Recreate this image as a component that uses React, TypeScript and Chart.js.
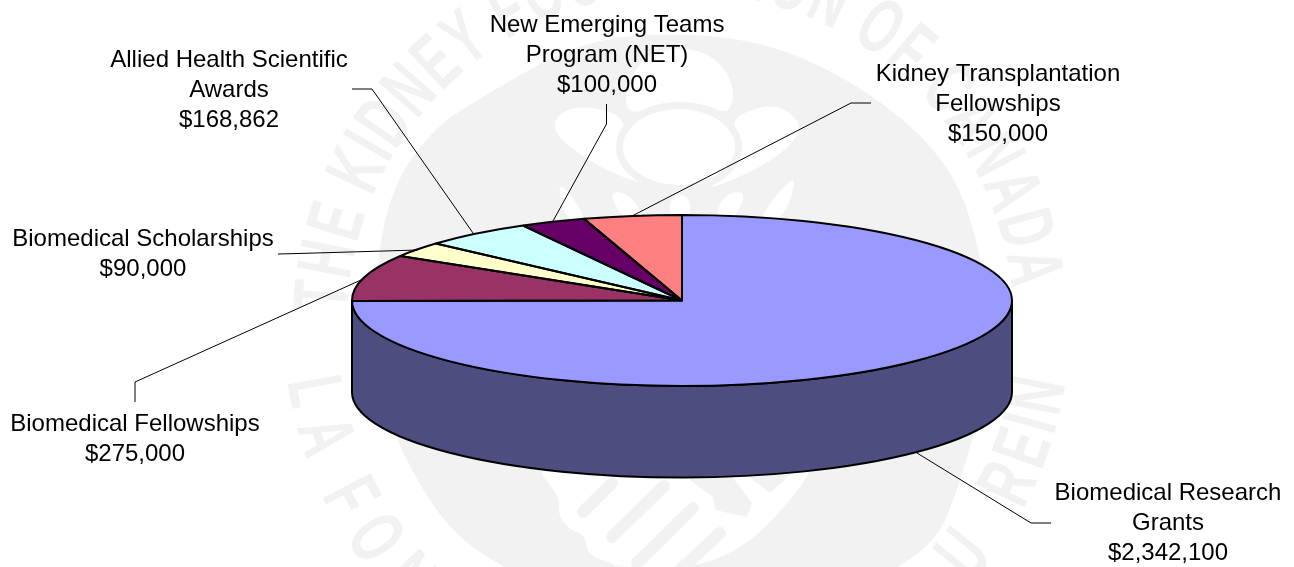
import React, { useEffect, useRef } from "react";
import { Chart, registerables } from "chart.js";

Chart.register(...registerables);

const categories = [
  "Biomedical Research Grants",
  "Biomedical Fellowships",
  "Biomedical Scholarships",
  "Allied Health Scientific Awards",
  "New Emerging Teams Program (NET)",
  "Kidney Transplantation Fellowships",
];
const values = [2342100, 275000, 90000, 168862, 100000, 150000];
const colors = ["#9999FF", "#993366", "#FFFFCC", "#CCFFFF", "#660066", "#FF8080"];
const sideColors = ["#4D4D80", "#4D1A33", "#808066", "#668080", "#330033", "#804040"];
const labelLines = [
  ["Biomedical Research", "Grants"],
  ["Biomedical Fellowships"],
  ["Biomedical Scholarships"],
  ["Allied Health Scientific", "Awards"],
  ["New Emerging Teams", "Program (NET)"],
  ["Kidney Transplantation", "Fellowships"],
];

// layout only: label centre x, first baseline y, leader polyline
const labelX = [1168, 135, 143, 229, 607, 998];
const labelY = [500, 431, 246, 67, 32, 81];
const leaders = [
  [[917, 453], [1031, 523], [1051, 523]],
  [[135, 402], [135, 382], [361, 280]],
  [[278, 254], [298, 253.5], [418, 250]],
  [[352, 89], [372, 89], [473, 233]],
  [[606.5, 104], [606.5, 124], [553, 221]],
  [[871, 103], [851, 103], [632, 216]],
];

const CY_RATIO = 85.5 / 330;
const DEPTH = 91.5;
const WM = "#f2f2f2";

const diskOutline = [
  [683, 32], [783, 46], [883, 100], [952, 167], [980, 247], [992, 340], [972, 450], [925, 575],
  [700, 610], [480, 575], [388, 437], [372, 320], [385, 200], [430, 130], [490, 92], [583, 40],
];
const whiteShapes = [
  [[537, 470], [560, 497], [558, 515], [570, 530], [585, 535], [587, 552], [600, 560], [612, 563], [615, 567], [727, 567], [813, 477], [813, 440], [537, 440]],
  [[553, 120], [570, 107], [600, 108], [627, 120], [617, 147], [630, 170], [650, 187], [597, 167], [557, 137]],
  [[800, 120], [777, 105], [755, 108], [730, 120], [743, 147], [728, 172], [703, 192], [763, 167], [797, 140]],
  [[623, 100], [632, 115], [655, 104], [680, 102], [705, 104], [730, 115], [735, 87], [717, 57], [680, 46], [640, 57]],
  [[556, 175], [590, 222], [565, 222]],
  [[607, 190], [632, 195], [645, 222], [625, 222]],
  [[670, 195], [690, 195], [690, 222], [670, 222]],
  [[748, 190], [722, 195], [715, 222], [733, 222]],
  [[797, 170], [790, 205], [775, 222], [755, 222]],
];
const grayShapes = [
  [[727, 470], [752, 503], [747, 517], [715, 510], [713, 497], [690, 480], [690, 470]],
  [[740, 470], [770, 493], [795, 470]],
];
const grayStripes = [
  [[583, 512], [612, 483]],
  [[612, 537], [664, 486]],
  [[637, 563], [693, 508]],
  [[680, 570], [720, 533]],
];

function smoothClosed(ctx: CanvasRenderingContext2D, pts: number[][]) {
  const n = pts.length;
  const mid = (a: number[], b: number[]) => [(a[0] + b[0]) / 2, (a[1] + b[1]) / 2];
  const s = mid(pts[n - 1], pts[0]);
  ctx.moveTo(s[0], s[1]);
  for (let i = 0; i < n; i++) {
    const m = mid(pts[i], pts[(i + 1) % n]);
    ctx.quadraticCurveTo(pts[i][0], pts[i][1], m[0], m[1]);
  }
  ctx.closePath();
}

function ringText(ctx: CanvasRenderingContext2D, text: string, cx: number, cy: number, r: number, from: number, to: number, flip: boolean) {
  const widths = [...text].map((c) => ctx.measureText(c).width);
  const total = widths.reduce((a, b) => a + b, 0);
  let acc = 0;
  [...text].forEach((c, i) => {
    const t = (acc + widths[i] / 2) / total;
    acc += widths[i];
    const deg = from + (to - from) * t;
    const a = (deg * Math.PI) / 180;
    ctx.save();
    ctx.translate(cx + r * Math.sin(a), cy - r * Math.cos(a));
    ctx.rotate(flip ? a + Math.PI : a);
    ctx.scale(0.62, 1);
    ctx.fillText(c, 0, 0);
    ctx.restore();
  });
}

function drawWatermark(ctx: CanvasRenderingContext2D) {
  ctx.save();
  ctx.fillStyle = WM;
  ctx.beginPath();
  smoothClosed(ctx, diskOutline);
  ctx.fill();
  ctx.fillStyle = "#ffffff";
  whiteShapes.forEach((p) => {
    ctx.beginPath();
    smoothClosed(ctx, p);
    ctx.fill();
  });
  ctx.beginPath();
  ctx.ellipse(679, 147, 63, 45, 0, 0, Math.PI * 2);
  ctx.fillStyle = WM;
  ctx.fill();
  ctx.beginPath();
  ctx.ellipse(679, 147, 56, 38, 0, 0, Math.PI * 2);
  ctx.fillStyle = "#ffffff";
  ctx.fill();
  ctx.fillStyle = WM;
  grayShapes.forEach((p) => {
    ctx.beginPath();
    p.forEach((q, i) => (i ? ctx.lineTo(q[0], q[1]) : ctx.moveTo(q[0], q[1])));
    ctx.closePath();
    ctx.fill();
  });
  ctx.strokeStyle = WM;
  ctx.lineWidth = 12;
  ctx.lineCap = "round";
  grayStripes.forEach((p) => {
    ctx.beginPath();
    ctx.moveTo(p[0][0], p[0][1]);
    ctx.lineTo(p[1][0], p[1][1]);
    ctx.stroke();
  });
  ctx.fillStyle = WM;
  ctx.font = "bold 78px 'Liberation Sans'";
  ctx.textAlign = "center";
  ctx.textBaseline = "middle";
  ringText(ctx, "THE KIDNEY FOUNDATION OF CANADA", 680, 325, 355, -88, 84, false);
  ringText(ctx, "LA FONDATION", 680, 325, 375, -97, -178, true);
  ringText(ctx, "DU", 680, 325, 368, -216, -236, true);
  ringText(ctx, "REIN", 680, 325, 368, -241, -262, true);
  ctx.restore();
}

const pie3d = {
  id: "pie3d",
  beforeDatasetsDraw(chart: any) {
    const ctx: CanvasRenderingContext2D = chart.ctx;
    drawWatermark(ctx);
    const arcs = chart.getDatasetMeta(0).data;
    ctx.lineWidth = 2;
    ctx.strokeStyle = "#000";
    ctx.lineJoin = "round";
    arcs.forEach((el: any, i: number) => {
      const { x, y, startAngle, endAngle, outerRadius } = el.getProps(["x", "y", "startAngle", "endAngle", "outerRadius"], true);
      const a0 = Math.max(startAngle, 0);
      const a1 = Math.min(endAngle, Math.PI);
      if (a1 <= a0) return;
      const ry = outerRadius * CY_RATIO;
      ctx.beginPath();
      ctx.ellipse(x, y, outerRadius, ry, 0, a0, a1);
      ctx.ellipse(x, y + DEPTH, outerRadius, ry, 0, a1, a0, true);
      ctx.closePath();
      ctx.fillStyle = sideColors[i];
      ctx.fill();
      ctx.stroke();
    });
    const first = arcs[0];
    ctx.save();
    ctx.translate(first.x, first.y);
    ctx.scale(1, CY_RATIO);
    ctx.translate(-first.x, -first.y);
  },
  afterDatasetsDraw(chart: any) {
    const ctx: CanvasRenderingContext2D = chart.ctx;
    ctx.restore();
    const arcs = chart.getDatasetMeta(0).data;
    ctx.lineWidth = 2;
    ctx.strokeStyle = "#000";
    ctx.lineJoin = "miter";
    ctx.miterLimit = 2;
    arcs.forEach((el: any) => {
      const { x, y, startAngle, endAngle, outerRadius } = el.getProps(["x", "y", "startAngle", "endAngle", "outerRadius"], true);
      ctx.beginPath();
      ctx.moveTo(x, y);
      ctx.ellipse(x, y, outerRadius, outerRadius * CY_RATIO, 0, startAngle, endAngle);
      ctx.closePath();
      ctx.stroke();
    });
    ctx.save();
    ctx.lineWidth = 1;
    ctx.strokeStyle = "#000";
    leaders.forEach((l) => {
      ctx.beginPath();
      l.forEach((p, i) => (i ? ctx.lineTo(p[0], p[1]) : ctx.moveTo(p[0], p[1])));
      ctx.stroke();
    });
    ctx.fillStyle = "#000";
    ctx.font = "24px 'Liberation Sans'";
    ctx.textAlign = "center";
    ctx.textBaseline = "alphabetic";
    labelLines.forEach((lines, i) => {
      const all = [...lines, "$" + values[i].toLocaleString("en-US")];
      all.forEach((t, j) => ctx.fillText(t, labelX[i], labelY[i] + j * 30));
    });
    ctx.restore();
  },
};

export default function App() {
  const ref = useRef<HTMLCanvasElement>(null);
  useEffect(() => {
    document.body.style.margin = "0";
    document.body.style.background = "#fff";
    const chart = new Chart(ref.current!, {
      type: "pie",
      data: {
        labels: categories,
        datasets: [{ data: values, backgroundColor: colors, borderWidth: 0, clip: false } as any],
      },
      options: {
        animation: false,
        responsive: false,
        radius: 330,
        layout: { padding: { left: 70, top: 34 } },
        plugins: { legend: { display: false }, tooltip: { enabled: false } },
      } as any,
      plugins: [pie3d],
    });
    return () => chart.destroy();
  }, []);
  return <canvas ref={ref} width={1294} height={567} style={{ display: "block" }} />;
}
